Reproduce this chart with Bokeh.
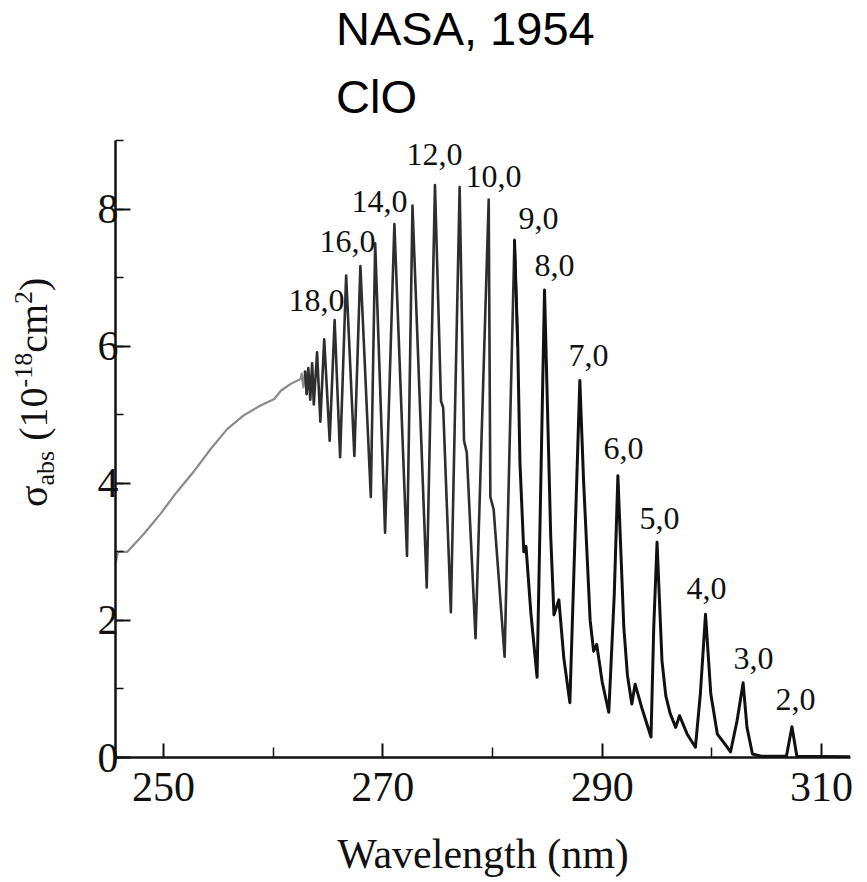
from bokeh.plotting import figure
from bokeh.models import Range1d, FixedTicker, SingleIntervalTicker, Label, Div
from bokeh.layouts import column, row
from bokeh.embed import file_html
from bokeh.resources import INLINE

# ---------------- data ----------------
wavelength = [245.62, 245.85, 246.7, 248.2, 249.7, 251.2, 252.8, 254.3, 255.8, 257.3,
              258.8, 260.1, 260.7, 261.6, 262.5, 262.6, 262.75, 262.9, 263.05, 263.2,
              263.38, 263.55, 263.7, 264.0, 264.3, 264.65, 265.15, 265.6, 266.1, 266.65,
              267.4, 267.95, 268.9, 269.3, 270.2, 271.05, 272.2, 272.7, 274.0, 274.75,
              275.3, 275.5, 276.2, 277.0, 277.4, 277.65, 278.45, 279.65, 279.8, 280.1,
              281.1, 282.0, 282.3, 282.5, 282.85, 283.05, 283.5, 284.06, 284.74, 285.3,
              285.6, 286.05, 286.5, 287.05, 287.96, 288.3, 288.9, 289.22, 289.5, 290.0,
              290.6, 291.1, 291.43, 291.97, 292.3, 292.7, 293.0, 293.6, 294.45, 294.7,
              295.0, 295.45, 295.8, 296.2, 296.7, 297.05, 297.75, 298.5, 298.95, 299.42,
              299.9, 300.5, 301.4, 301.7, 302.3, 302.85, 303.2, 303.7, 304.5, 306.8,
              307.3, 307.75, 312.6]
sigma = [2.83, 3.00, 3.00, 3.26, 3.55, 3.87, 4.18, 4.50, 4.79, 4.99,
         5.13, 5.23, 5.35, 5.45, 5.52, 5.60, 5.40, 5.64, 5.30, 5.68,
         5.22, 5.75, 5.15, 5.91, 4.90, 6.10, 4.62, 6.38, 4.38, 7.03,
         4.40, 7.17, 3.80, 7.50, 3.28, 7.78, 2.94, 8.05, 2.48, 8.35,
         5.20, 5.10, 2.12, 8.32, 4.62, 4.45, 1.74, 8.14, 3.80, 3.62,
         1.47, 7.55, 6.00, 4.30, 3.00, 3.08, 2.10, 1.17, 6.82, 3.25,
         2.08, 2.30, 1.45, 0.80, 5.50, 4.04, 2.00, 1.55, 1.65, 1.10,
         0.66, 2.38, 4.11, 1.90, 1.20, 0.78, 1.07, 0.73, 0.30, 1.90,
         3.14, 1.41, 0.90, 0.64, 0.44, 0.61, 0.34, 0.15, 0.93, 2.09,
         0.93, 0.34, 0.15, 0.08, 0.54, 1.09, 0.44, 0.05, 0.02, 0.02,
         0.45, 0.02, 0.01]

band_labels = ["18,0", "16,0", "14,0", "12,0", "10,0", "9,0", "8,0",
               "7,0", "6,0", "5,0", "4,0", "3,0", "2,0"]
band_label_x = [263.95, 266.78, 269.70, 274.71, 280.09, 284.19, 285.65,
                288.75, 291.94, 295.23, 299.51, 303.80, 307.63]
band_label_y = [6.67, 7.52, 8.11, 8.80, 8.47, 7.86, 7.18,
                5.86, 4.51, 3.48, 2.46, 1.45, 0.85]

x_major_ticks = [250, 270, 290, 310]
x_minor_ticks = [260, 280, 300]
title_lines = ["NASA, 1954", "ClO"]
x_label = "Wavelength (nm)"

# ---------------- layout constants (pixels) ----------------
W, H = 867, 882
AXIS_TOP = 140       # pixel row where the y axis (value 9) ends
HEAD = 22            # extra frame above the axis end, so labels are not clipped
TOP_H = AXIS_TOP - HEAD
YLAB_W = 60
FRAME_W = 735
PX_PER_UNIT = 617 / 9.0
FRAME_H = 617 + HEAD
X0, X1 = 245.62, 312.64
Y0, Y_AXIS_END = 0.0, 9.0
Y1 = Y_AXIS_END + HEAD / PX_PER_UNIT
SERIF = "Liberation Serif"
INK = "#111111"
REST_H = H - TOP_H

# ---- title strip (real HTML text) ----
title_tops = [5, 73]
title_html = '<div style="position:relative;width:%dpx;height:%dpx;">' % (W, TOP_H)
for line, tp in zip(title_lines, title_tops):
    title_html += ('<div style="position:absolute;left:336px;top:%dpx;'
                   "font-family:'Liberation Sans';font-size:47px;line-height:1;"
                   'color:#000;white-space:nowrap;">%s</div>' % (tp, line))
title_html += '</div>'
top = Div(text=title_html, width=W, height=TOP_H, margin=0)

# ---- rotated y label with subscript / superscripts ----
sub = 'font-size:26px;line-height:0;vertical-align:-7px;'
sup = 'font-size:26px;line-height:0;vertical-align:15px;'
ylab_html = (
    '<div style="position:relative;width:%dpx;height:%dpx;">' % (YLAB_W, REST_H) +
    '<div style="position:absolute;left:14px;top:%dpx;transform:rotate(-90deg);'
    "transform-origin:0 0;font-family:'Liberation Serif';font-size:40px;"
    'line-height:1;white-space:nowrap;color:%s;">' % (507 - TOP_H, INK) +
    'σ<span style="%s">abs</span> (10<span style="%s">-18</span>cm'
    '<span style="%s">2</span>)' % (sub, sup, sup) +
    '</div></div>')
ylab = Div(text=ylab_html, width=YLAB_W, height=REST_H, margin=0)

# ---- main plot ----
p = figure(frame_width=FRAME_W, frame_height=FRAME_H,
           x_range=Range1d(X0, X1), y_range=Range1d(Y0, Y1),
           output_backend="svg", toolbar_location=None,
           min_border_left=115 - YLAB_W, min_border_right=W - 115 - FRAME_W,
           min_border_top=0, min_border_bottom=REST_H - FRAME_H)
p.outline_line_color = None
p.grid.grid_line_color = None
p.background_fill_color = "white"
p.border_fill_color = "white"


def seg(lo, hi):
    idx = [i for i, w in enumerate(wavelength) if lo <= w <= hi]
    return [wavelength[i] for i in idx], [sigma[i] for i in idx]


for (lo, hi, col, lw) in [(0, 263.05, "#8a8a8a", 2.2),
                          (262.9, 282.3, "#2e2e2e", 2.6),
                          (282.0, 400, INK, 3.0)]:
    xs, ys = seg(lo, hi)
    p.line(xs, ys, line_color=col, line_width=lw, line_join="round")

xa = p.xaxis[0]
xa.ticker = FixedTicker(ticks=x_major_ticks, minor_ticks=x_minor_ticks)
xa.axis_line_width = 2.5
xa.axis_line_color = INK
xa.major_tick_in = 14
xa.major_tick_out = 0
xa.minor_tick_in = 10
xa.minor_tick_out = 0
xa.major_tick_line_width = 2
xa.minor_tick_line_width = 1.5
xa.major_tick_line_color = INK
xa.minor_tick_line_color = INK
xa.major_label_text_font = SERIF
xa.major_label_text_font_size = "42px"
xa.major_label_text_color = INK
xa.major_label_standoff = 15
xa.axis_label = x_label
xa.axis_label_text_font = SERIF
xa.axis_label_text_font_size = "42px"
xa.axis_label_text_font_style = "normal"
xa.axis_label_text_color = INK
xa.axis_label_standoff = 27

ya = p.yaxis[0]
ya.bounds = (Y0, Y_AXIS_END)
ya.ticker = SingleIntervalTicker(interval=2, num_minor_ticks=2)
ya.axis_line_width = 2.5
ya.axis_line_color = INK
ya.major_tick_in = 15
ya.major_tick_out = 0
ya.minor_tick_in = 8
ya.minor_tick_out = 0
ya.major_tick_line_width = 2
ya.minor_tick_line_width = 1.5
ya.major_tick_line_color = INK
ya.minor_tick_line_color = INK
ya.major_label_text_font = SERIF
ya.major_label_text_font_size = "42px"
ya.major_label_text_color = INK
ya.major_label_standoff = -3

for t, lx, ly in zip(band_labels, band_label_x, band_label_y):
    p.add_layout(Label(x=lx, y=ly, text=t, text_font=SERIF,
                       text_font_size="32px", text_color=INK,
                       text_align="center", text_baseline="middle"))

layout = column(top, row(ylab, p, spacing=0), spacing=0)
open("out.html", "w").write(file_html(layout, INLINE))
